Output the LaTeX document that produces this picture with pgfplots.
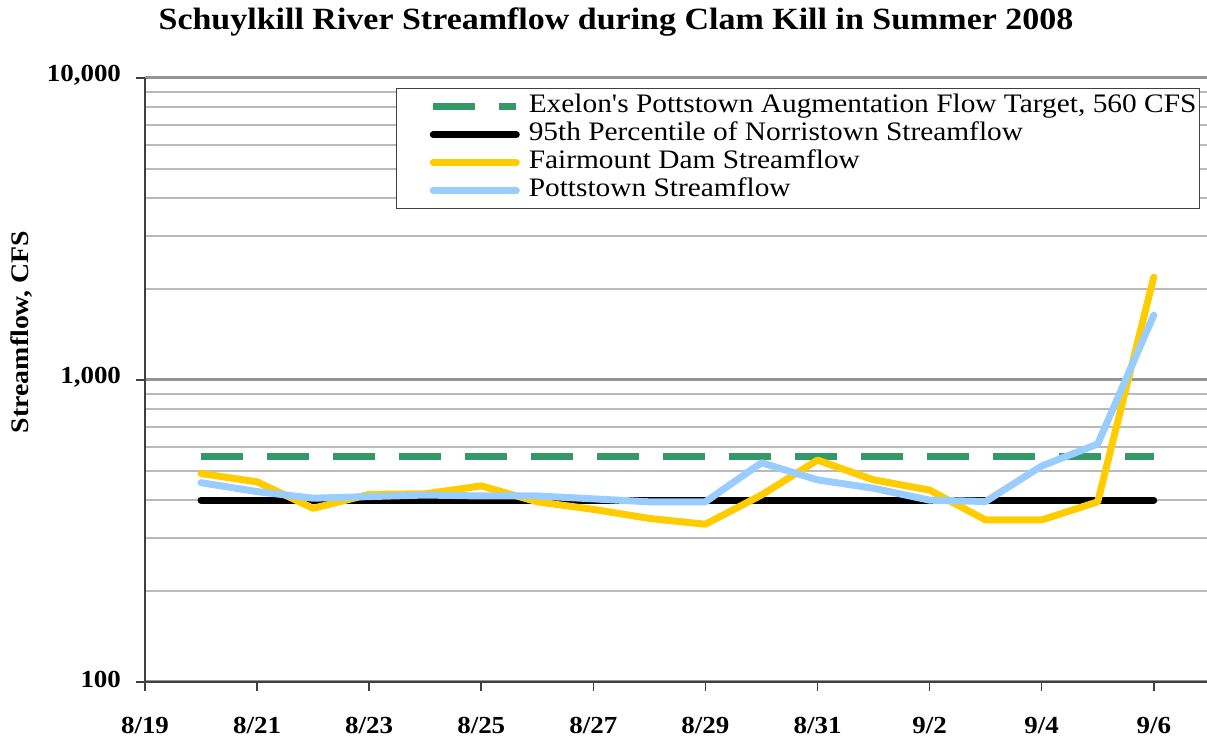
\documentclass[border=0pt]{standalone}
\usepackage{fontspec}
\setmainfont{Liberation Serif}[FakeStretch=1.1, Ligatures=TeXOff]
\usepackage{pgfplots}
\usepackage{pgfplotstable}
\pgfplotsset{compat=1.18}

\definecolor{exgreen}{HTML}{339966}
\definecolor{fairyel}{HTML}{FFCC00}
\definecolor{pottblue}{HTML}{99CCFF}
\definecolor{axisgray}{HTML}{404040}

% day = days after 8/19
\pgfplotstableread{
day fair pott
1 490 457
2 460 427
3 376 406
4 418 411
5 420 416
6 446 413
7 395 413
8 373 404
9 348 395
10 333 395
11 416 532
12 543 467
13 467 438
14 432 400
15 344 396
16 344 519
17 395 614
18 2190 1640
}\flowdata

\begin{document}
\begin{tikzpicture}
\begin{semilogyaxis}[
  at={(72.5bp,29bp)}, anchor=south west,
  width=531bp, height=302bp, scale only axis,
  xmin=0, xmax=18.95,
  ymin=100, ymax=10000,
  axis lines=left,
  axis line style={-, axisgray, line width=1bp},
  xtick={0,2,...,18},
  xticklabels={8/19,8/21,8/23,8/25,8/27,8/29,8/31,9/2,9/4,9/6},
  ytick={100,1000,10000},
  yticklabels={100,{1,000},{10,000}},
  tick align=outside,
  major tick length=4.5bp,
  minor tick length=0pt,
  tick style={axisgray, line width=0.8bp},
  ticklabel style={font=\fontsize{12.3}{14}\selectfont\bfseries},
  xticklabel style={yshift=-9.5bp},
  yticklabel style={xshift=-4bp, yshift=1.5bp},
  ymajorgrids, yminorgrids,
  major grid style={draw=black!42, line width=1.5bp},
  minor grid style={draw=black!27, line width=0.9bp},
  legend style={at={(0.9934,0.9834)}, anchor=north east,
    draw=black!75, line width=0.6bp, fill=white,
    inner xsep=1.5bp, inner ysep=2bp,
    row sep=0pt, column sep=4.5bp,
    font=\fontsize{13.4}{15}\selectfont,
    nodes={inner sep=0pt, text height=10bp, text depth=4bp}},
  legend cell align=left,
  legend image code/.code={\path (-15bp,0bp); \draw[#1] (0bp,0bp) -- (41.5bp,0bp);},
  every axis plot/.append style={line width=3.5bp, line join=round},
]
\addplot[exgreen, dash pattern=on 21bp off 12bp] coordinates {(1,560) (18,560)};
\addlegendentry{Exelon's Pottstown Augmentation Flow Target, 560 CFS}
\addplot[black, line cap=round] coordinates {(1,400) (18,400)};
\addlegendentry{95th Percentile of Norristown Streamflow}
\addplot[fairyel, line cap=round] table[x=day, y=fair] {\flowdata};
\addlegendentry{Fairmount Dam Streamflow}
\addplot[pottblue, line cap=round] table[x=day, y=pott] {\flowdata};
\addlegendentry{Pottstown Streamflow}
\end{semilogyaxis}
\node[font=\fontsize{15.5}{18}\selectfont\bfseries] at (308bp,359bp) {Schuylkill River Streamflow during Clam Kill in Summer 2008};
\node[rotate=90, font=\fontsize{12.7}{15}\selectfont\bfseries] at (11bp,204bp) {Streamflow, CFS};
\pgfresetboundingbox
\path[use as bounding box] (0,0) rectangle (603.5bp,370bp);
\end{tikzpicture}
\end{document}
